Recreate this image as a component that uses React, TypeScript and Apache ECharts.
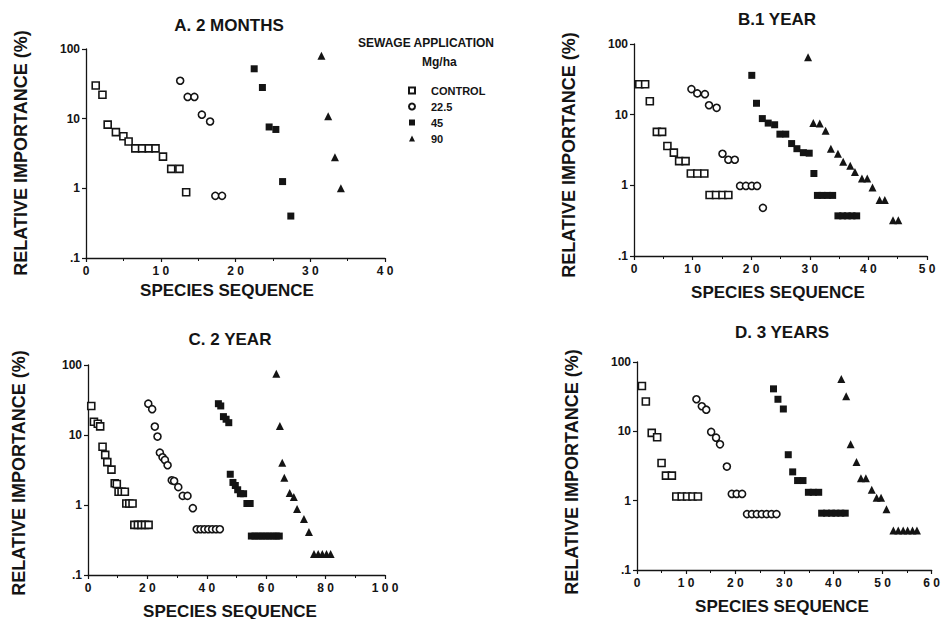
import React, { useEffect, useRef } from "react";
import * as echarts from "echarts";

// ---- data: [species sequence, relative importance %] ----
const A_CONTROL = [[1.3,30],[2.2,22],[2.9,8.2],[4.0,6.4],[5.0,5.6],[5.7,4.7],[6.6,3.75],[7.5,3.75],[8.4,3.75],[9.3,3.75],[10.3,2.85],[11.4,1.9],[12.5,1.9],[13.4,0.88]];
const A_225 = [[12.6,35],[13.6,20.5],[14.5,20.5],[15.5,11.4],[16.6,9.1],[17.3,0.78],[18.2,0.78]];
const A_45 = [[22.5,52],[23.6,28],[24.5,7.6],[25.4,7.0],[26.3,1.25],[27.4,0.4]];
const A_90 = [[31.5,80],[32.4,10.8],[33.3,2.8],[34.1,1.0]];

const B_CONTROL = [[0.9,27],[1.9,27],[2.7,15.5],[3.9,5.7],[4.8,5.7],[5.7,3.6],[6.8,2.9],[7.7,2.2],[8.8,2.2],[9.7,1.47],[10.8,1.47],[12.0,1.47],[12.9,0.73],[14.0,0.73],[15.1,0.73],[16.1,0.73]];
const B_225 = [[9.8,23],[10.8,20],[12.1,19.5],[12.8,13.6],[14.1,12.5],[15.1,2.8],[16.1,2.3],[17.2,2.3],[18.1,0.98],[19.1,0.98],[20.1,0.98],[21.0,0.98],[22.0,0.48]];
const B_45 = [[20.1,36],[20.9,14.5],[21.9,8.8],[22.9,7.6],[24.0,7.2],[24.9,5.3],[25.9,5.3],[26.9,3.9],[27.8,3.3],[28.9,2.9],[29.9,2.85],[30.7,1.47],[31.3,0.72],[32.1,0.72],[33.0,0.72],[33.9,0.72],[34.8,0.37],[35.6,0.37],[36.4,0.37],[37.2,0.37],[38.0,0.37]];
const B_90 = [[29.7,65],[30.6,7.6],[31.7,7.5],[32.7,5.9],[33.6,3.3],[34.8,2.8],[35.7,2.15],[36.9,1.9],[37.7,1.55],[38.9,1.25],[39.8,1.25],[40.7,0.93],[41.9,0.62],[42.8,0.62],[44.2,0.32],[45.1,0.32]];

const C_CONTROL = [[1.1,26],[2.0,15.5],[3.3,14.5],[4.1,13.3],[4.9,6.8],[5.8,5.2],[6.5,4.1],[7.9,3.2],[9.0,2.05],[9.7,2.0],[10.3,1.55],[11.3,1.55],[12.4,1.55],[12.9,1.05],[13.9,1.05],[15.0,1.05],[15.6,0.52],[16.8,0.52],[18.0,0.52],[19.2,0.52],[20.4,0.52]];
const C_225 = [[20.3,28],[21.6,23.4],[22.5,13.2],[23.4,9.5],[24.2,5.6],[25.1,4.8],[25.9,4.4],[26.8,3.7],[28.2,2.25],[29.0,2.2],[30.4,1.8],[31.9,1.35],[33.5,1.35],[35.3,0.9],[36.6,0.45],[37.9,0.45],[39.2,0.45],[40.5,0.45],[41.8,0.45],[43.1,0.45],[44.4,0.45]];
const C_45 = [[43.9,28],[44.7,26],[45.6,18.3],[46.5,16.8],[47.4,15],[47.9,2.75],[48.8,2.1],[49.6,1.9],[50.4,1.65],[51.3,1.45],[52.4,1.45],[53.5,1.05],[54.6,1.05],[55.0,0.36],[56.2,0.36],[57.4,0.36],[58.6,0.36],[59.8,0.36],[61.0,0.36],[62.2,0.36],[63.4,0.36],[64.4,0.36]];
const C_90 = [[63.4,75],[64.6,13.4],[65.4,4.0],[66.1,2.45],[67.9,1.48],[69.3,1.3],[70.4,0.88],[72.7,0.63],[74.4,0.41],[76.1,0.2],[77.5,0.2],[78.9,0.2],[80.3,0.2],[81.7,0.2]];

const D_CONTROL = [[1.0,45],[1.8,27],[3.0,9.5],[4.1,8.2],[5.0,3.5],[5.9,2.3],[7.1,2.3],[8.0,1.15],[9.1,1.15],[10.2,1.15],[11.3,1.15],[12.4,1.15]];
const D_225 = [[12.1,29],[13.2,23],[14.1,20.5],[15.1,9.8],[16.1,8.1],[16.9,6.5],[18.3,3.1],[19.3,1.25],[20.3,1.25],[21.4,1.25],[22.4,0.64],[23.4,0.64],[24.4,0.64],[25.4,0.64],[26.4,0.64],[27.4,0.64],[28.4,0.64]];
const D_45 = [[27.8,41],[28.7,29],[29.8,21],[30.8,4.6],[31.7,2.6],[32.7,1.95],[33.8,1.95],[34.9,1.32],[35.9,1.32],[37.0,1.32],[37.6,0.66],[38.6,0.66],[39.6,0.66],[40.5,0.66],[41.5,0.66],[42.4,0.66]];
const D_90 = [[41.6,57],[42.6,32],[43.5,6.5],[44.7,3.6],[45.6,2.1],[46.6,2.1],[47.8,1.44],[48.8,1.1],[49.7,1.1],[50.8,0.75],[52.2,0.37],[53.2,0.37],[54.2,0.37],[55.1,0.37],[56.1,0.37],[57.0,0.37]];

const GROUP_NAMES = ["CONTROL", "22.5", "45", "90"];
const PANEL_TITLES = ["A. 2 MONTHS", "B.1 YEAR", "C. 2 YEAR", "D. 3 YEARS"];
const X_MAX = [40, 50, 100, 60];
const X_INTERVAL = [10, 10, 20, 10];
const PANEL_DATA = [
  [A_CONTROL, A_225, A_45, A_90],
  [B_CONTROL, B_225, B_45, B_90],
  [C_CONTROL, C_225, C_45, C_90],
  [D_CONTROL, D_225, D_45, D_90],
];

const FONT = "'Liberation Sans', Arial, Helvetica, sans-serif";
const INK = "#141414";

const GRIDS = [
  { left: 86, top: 49, width: 299, height: 209 },
  { left: 634, top: 44, width: 293, height: 212 },
  { left: 88, top: 365, width: 297, height: 210 },
  { left: 637, top: 362, width: 295, height: 208 },
];
const TITLE_POS = [[229, 25], [777, 19], [230, 339], [782, 332]];
const YNAME_POS = [[21, 153], [569, 155], [19, 473], [572, 472]];
const XNAME_POS = [[227, 290], [778, 292], [230, 611], [782, 606]];

const SYMBOLS = ["rect", "circle", "rect", "triangle"];
const SIZES = [7, 7, 7, 8];

function groupStyle(g: number) {
  if (g < 2) return { color: "#ffffff", borderColor: INK, borderWidth: 1.6, opacity: 1 };
  return { color: INK, borderColor: INK, borderWidth: 0, opacity: 1 };
}

export default function App() {
  const ref = useRef<HTMLDivElement>(null);
  useEffect(() => {
    if (!ref.current) return;
    const chart = echarts.init(ref.current, null, { renderer: "svg" });
    const xAxes = GRIDS.map((_, i) => ({
      type: "value",
      gridIndex: i,
      min: 0,
      max: X_MAX[i],
      interval: X_INTERVAL[i],
      axisLine: { show: true, onZero: false, lineStyle: { color: INK, width: 1.3 } },
      axisTick: { show: true, length: 4, lineStyle: { color: INK, width: 1.2 } },
      minorTick: { show: true, splitNumber: 2, length: 3, lineStyle: { color: INK, width: 1 } },
      splitLine: { show: false },
      axisLabel: {
        color: INK, fontSize: 12, fontWeight: "bold", fontFamily: FONT, margin: 7,
        formatter: (v: number) => String(v).split("").join(" "),
      },
    }));
    const yAxes = GRIDS.map((_, i) => ({
      type: "log",
      logBase: 10,
      gridIndex: i,
      min: 0.1,
      max: 100,
      axisLine: { show: true, lineStyle: { color: INK, width: 1.3 } },
      axisTick: { show: true, length: 4, lineStyle: { color: INK, width: 1.2 } },
      splitLine: { show: false },
      minorTick: { show: false },
      axisLabel: {
        color: INK, fontSize: 12, fontWeight: "bold", fontFamily: FONT, margin: 6,
        formatter: (v: number) => (v < 0.5 ? ".1" : String(Math.round(v))),
      },
    }));
    const series: any[] = [];
    PANEL_DATA.forEach((groups, p) => {
      groups.forEach((data, g) => {
        series.push({
          type: "scatter",
          name: GROUP_NAMES[g],
          xAxisIndex: p,
          yAxisIndex: p,
          symbol: SYMBOLS[g],
          symbolSize: SIZES[g],
          itemStyle: groupStyle(g),
          data,
        });
      });
    });
    const textStyle = (size: number) => ({ fill: INK, fontSize: size, fontWeight: "bold", fontFamily: FONT });
    const graphics: any[] = [];
    PANEL_TITLES.forEach((t, i) => {
      graphics.push({ type: "text", x: TITLE_POS[i][0], y: TITLE_POS[i][1], style: { ...textStyle(17), text: t, textAlign: "center", textVerticalAlign: "middle" } });
      graphics.push({ type: "text", x: YNAME_POS[i][0], y: YNAME_POS[i][1], rotation: Math.PI / 2, style: { ...textStyle(18), text: "RELATIVE IMPORTANCE (%)", textAlign: "center", textVerticalAlign: "middle" } });
      graphics.push({ type: "text", x: XNAME_POS[i][0], y: XNAME_POS[i][1], style: { ...textStyle(17), text: "SPECIES SEQUENCE", textAlign: "center", textVerticalAlign: "middle" } });
    });
    graphics.push({ type: "text", x: 358, y: 43, style: { ...textStyle(12), text: "SEWAGE APPLICATION", textAlign: "left", textVerticalAlign: "middle" } });
    graphics.push({ type: "text", x: 422, y: 62, style: { ...textStyle(12), text: "Mg/ha", textAlign: "left", textVerticalAlign: "middle" } });

    chart.setOption({
      animation: false,
      backgroundColor: "#ffffff",
      grid: GRIDS,
      xAxis: xAxes,
      yAxis: yAxes,
      legend: {
        data: GROUP_NAMES,
        orient: "vertical",
        left: 403,
        top: 80,
        itemWidth: 6,
        itemHeight: 6,
        itemGap: 5,
        formatter: (n: string) => `{t|${n}}`,
        textStyle: {
          color: INK, fontSize: 11, fontWeight: "bold", fontFamily: FONT,
          rich: { t: { color: INK, fontSize: 11, fontWeight: "bold", fontFamily: FONT, padding: [0, 0, 0, 11] } },
        },
      },
      graphic: graphics,
      series,
    });
    return () => chart.dispose();
  }, []);
  return (
    <div
      ref={ref}
      style={{ position: "fixed", left: 0, top: 0, width: 943, height: 619, background: "#fff" }}
    />
  );
}
